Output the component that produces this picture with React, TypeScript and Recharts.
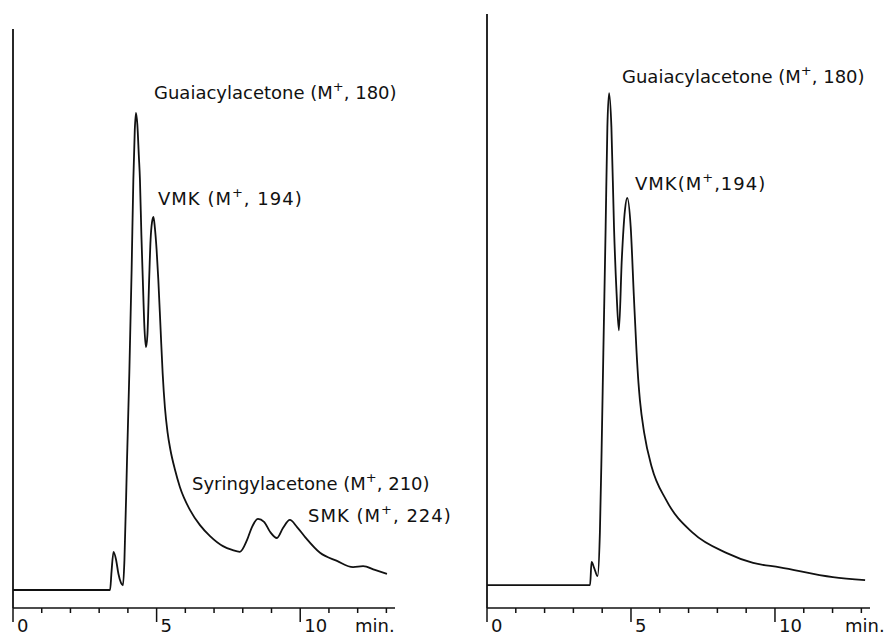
import { LineChart, Line, XAxis, YAxis } from "recharts";

// left run: retention time (min) / detector response
const leftTime = [
  0, 3.38, 3.43, 3.5, 3.59, 3.67, 3.76, 3.83, 3.88, 3.97, 4.05, 4.13, 4.19, 4.24, 4.28, 4.33, 4.38,
  4.42, 4.47, 4.52, 4.58, 4.63, 4.68, 4.74, 4.79, 4.84, 4.89, 4.94, 5.0, 5.06, 5.14, 5.21, 5.29,
  5.38, 5.48, 5.64, 5.81, 6.16, 6.51, 6.86, 7.31, 7.63, 7.9, 8.15, 8.32, 8.53, 8.74, 8.95, 9.19,
  9.4, 9.64, 9.89, 10.17, 10.69, 11.28, 11.84, 12.19, 12.6, 13.02,
];
const leftSignal = [
  0, 0, 3.8, 8.0, 6.3, 3.4, 1.5, 1.0, 6.3, 27.3, 45.5, 67.1, 86.0, 96.4, 100, 97.5, 91.2,
  86.0, 74.4, 65.0, 54.5, 50.9, 53.5, 65.0, 73.4, 77.1, 78.2, 75.9, 71.3, 65.0, 54.5, 45.5, 38.2,
  33.1, 29.4, 25.2, 21.6, 16.8, 13.6, 11.3, 9.2, 8.4, 8.0, 10.5, 13.2, 14.9, 14.3, 12.2, 10.9,
  13.0, 14.7, 13.2, 11.1, 7.8, 6.1, 4.8, 5.0, 4.2, 3.4,
];

// right run
const rightTime = [
  0, 3.58, 3.63, 3.72, 3.84, 3.92, 3.98, 4.04, 4.12, 4.18, 4.24, 4.32, 4.41, 4.5, 4.58, 4.68,
  4.79, 4.87, 4.99, 5.1, 5.19, 5.26, 5.31, 5.46, 5.72, 6.22, 7.15, 8.33, 9.24, 10.17, 12.01, 13.13,
];
const rightSignal = [
  0, 0, 4.7, 3.5, 1.8, 10.6, 27.4, 47.2, 72.8, 93.1, 100, 93.1, 72.8, 59.3, 51.8, 66.1,
  76.2, 78.7, 72.8, 58.7, 47.8, 41.1, 37.6, 30.9, 24.0, 17.3, 10.6, 6.5, 4.5, 3.6, 1.6, 1.0,
];

const minuteTicks = [0, 1, 2, 3, 4, 5, 6, 7, 8, 9, 10, 11, 12, 13];

const leftData = leftTime.map((t, i) => ({ t, v: leftSignal[i] }));
const rightData = rightTime.map((t, i) => ({ t, v: rightSignal[i] }));

const FONT = "'DejaVu Sans', sans-serif";

const MinuteTick = (props: any) => {
  const { x, y, payload } = props;
  const major = payload.value % 5 === 0;
  return (
    <g>
      <line x1={x} x2={x} y1={y} y2={y + (major ? 14 : 5)} stroke="#111" strokeWidth={1.5} />
      {major && (
        <text x={x + 4} y={y + 24} fontSize={18} fontFamily={FONT} fill="#111">
          {payload.value}
        </text>
      )}
    </g>
  );
};

function Trace({ data, width, margin, yDomain }: any) {
  return (
    <LineChart width={width} height={635} data={data} margin={margin}>
      <XAxis
        dataKey="t"
        type="number"
        domain={[0, 13.3]}
        ticks={minuteTicks}
        interval={0}
        height={27}
        tickSize={0}
        tickMargin={0}
        tickLine={false}
        tick={<MinuteTick />}
        axisLine={{ stroke: "#111", strokeWidth: 1.5 }}
        allowDataOverflow
      />
      <YAxis
        type="number"
        domain={yDomain}
        width={1}
        tick={false}
        tickLine={false}
        axisLine={{ stroke: "#111", strokeWidth: 1.8 }}
        allowDataOverflow
      />
      <Line
        type="monotone"
        dataKey="v"
        stroke="#111"
        strokeWidth={1.8}
        dot={false}
        isAnimationActive={false}
      />
    </LineChart>
  );
}

const Ion = ({ name, mass, sep = " ", comma = ", " }: { name: string; mass: number; sep?: string; comma?: string }) => (
  <>
    {name}
    {sep}(M
    <tspan dy={-8} fontSize={13}>+</tspan>
    <tspan dy={8}>{comma}{mass})</tspan>
  </>
);

export default function App() {
  return (
    <div style={{ position: "absolute", left: 0, top: 0, width: 884, height: 635, background: "#fff" }}>
      <div style={{ position: "absolute", left: 0, top: 0 }}>
        <Trace data={leftData} width={420} margin={{ top: 29, left: 12, right: 25, bottom: 0 }} yDomain={[-3.77, 117.6]} />
      </div>
      <div style={{ position: "absolute", left: 440, top: 0 }}>
        <Trace data={rightData} width={444} margin={{ top: 14, left: 46, right: 14, bottom: 0 }} yDomain={[-4.67, 116.1]} />
      </div>
      <svg width={884} height={635} style={{ position: "absolute", left: 0, top: 0, pointerEvents: "none" }}>
        <g fontFamily={FONT} fontSize={18} fill="#111">
          <text x={154} y={99}><Ion name="Guaiacylacetone" mass={180} /></text>
          <text x={158} y={205} letterSpacing={1}><Ion name="VMK" mass={194} /></text>
          <text x={192} y={490}><Ion name="Syringylacetone" mass={210} /></text>
          <text x={308} y={522} letterSpacing={1}><Ion name="SMK" mass={224} /></text>
          <text x={622} y={83}><Ion name="Guaiacylacetone" mass={180} /></text>
          <text x={635} y={190} letterSpacing={1}><Ion name="VMK" mass={194} sep="" comma="," /></text>
        </g>
        <g fontFamily={FONT} fontSize={18} fill="#111">
          <text x={355} y={632}>min.</text>
          <text x={845} y={632}>min.</text>
        </g>
      </svg>
    </div>
  );
}
